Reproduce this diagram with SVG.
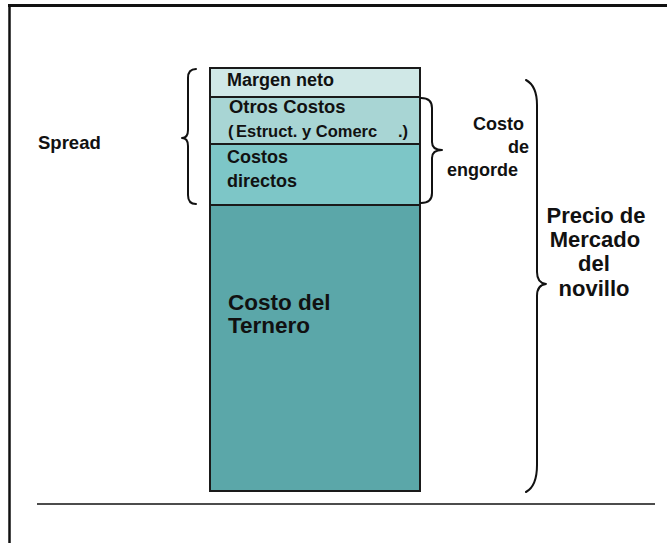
<svg xmlns="http://www.w3.org/2000/svg" width="667" height="543" viewBox="0 0 667 543">
<style>
.t{font-family:"Liberation Sans",Arial,sans-serif;font-weight:bold;fill:#111}
.seg{stroke:#1a1a1a;stroke-width:2}
.br{fill:none;stroke:#111;stroke-width:2;stroke-linejoin:round;stroke-linecap:round}
</style>
<rect width="667" height="543" fill="#fff"/>
<g id="frame">
<line x1="8" y1="5.5" x2="667" y2="5.5" stroke="#111" stroke-width="3"/>
<line x1="9.5" y1="4" x2="9.5" y2="543" stroke="#111" stroke-width="2.5"/>
<line x1="37" y1="504" x2="655" y2="504" stroke="#111" stroke-width="1.5"/>
</g>
<g id="margen-neto">
<rect class="seg" x="210" y="68" width="210" height="29" fill="#D0E8E7"/>
<text class="t" x="227" y="86" font-size="18">Margen neto</text>
</g>
<g id="otros-costos">
<rect class="seg" x="210" y="97" width="210" height="47" fill="#A8D5D4"/>
<text class="t" x="229" y="113" font-size="18.4">Otros Costos</text>
<text class="t" x="228" y="137" font-size="16.5">(<tspan x="236">Estruct. y Comerc</tspan></text>
<text class="t" x="398" y="137" font-size="16.5">.)</text>
</g>
<g id="costos-directos">
<rect class="seg" x="210" y="144" width="210" height="61" fill="#7DC6C7"/>
<text class="t" x="227" y="163" font-size="18">Costos</text>
<text class="t" x="227" y="187" font-size="18">directos</text>
</g>
<g id="costo-ternero">
<rect class="seg" x="210" y="205" width="210" height="286" fill="#5BA7A9"/>
<text class="t" x="228" y="310" font-size="22.5">Costo del</text>
<text class="t" x="228" y="333" font-size="22.5">Ternero</text>
</g>
<g id="connectors">
<path class="br" d="M196,69 Q188,69 188,78 L188,130 Q188,138 182,138 Q188,138 188,146 L188,195 Q188,204 196,204"/>
<path class="br" d="M421,98 Q432,98 432,108 L432,142 Q432,150 442,150 Q432,150 432,158 L432,193 Q432,203 421,203"/>
<path class="br" stroke-width="2.5" d="M526,80 Q537,86 537,105 L537,272 Q537,283 546,284 Q537,285 537,296 L537,465 Q537,486 526,492"/>
</g>
<g id="spread">
<text class="t" x="38" y="149" font-size="18.5">Spread</text>
</g>
<g id="costo-engorde">
<text class="t" x="524" y="130" font-size="18" text-anchor="end">Costo</text>
<text class="t" x="529" y="153" font-size="18" text-anchor="end">de</text>
<text class="t" x="447" y="176" font-size="18">engorde</text>
</g>
<g id="precio-mercado">
<text class="t" x="596" y="223" font-size="22" text-anchor="middle">Precio de</text>
<text class="t" x="595" y="247" font-size="22" text-anchor="middle">Mercado</text>
<text class="t" x="594" y="271" font-size="22" text-anchor="middle">del</text>
<text class="t" x="594" y="296" font-size="22" text-anchor="middle">novillo</text>
</g>
</svg>
